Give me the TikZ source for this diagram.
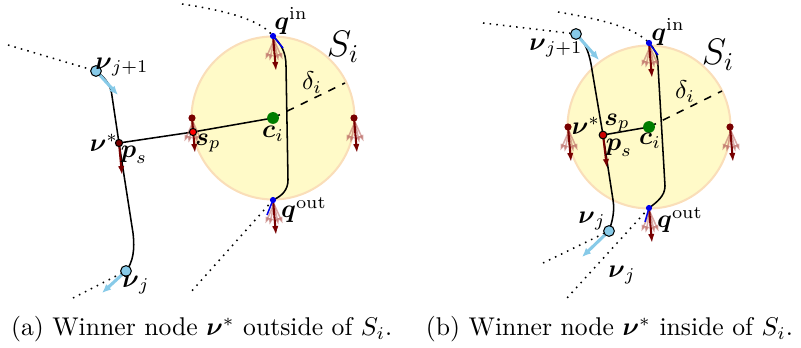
\documentclass[tikz,border=0pt]{standalone}
\usepackage{amsmath,amssymb}
\usetikzlibrary{arrows.meta,positioning,calc}
\definecolor{zonefill}{RGB}{255,250,200}
\definecolor{zoneedge}{RGB}{250,222,185}
\definecolor{frcred}{RGB}{120,0,0}
\definecolor{fanred}{RGB}{185,100,95}
\definecolor{nodeblue}{RGB}{135,202,232}
\definecolor{ptblue}{RGB}{0,0,235}
\definecolor{cgreen}{RGB}{0,125,0}

\begin{document}
\begin{tikzpicture}[x=0.39pt,y=-0.39pt,
  frc/.style={frcred,thick,-{Latex[length=3.5pt,width=2.5pt]}},
  fan/.style={fanred,opacity=0.55,semithick,-{Latex[length=2.8pt,width=2pt]}},
  vel/.style={nodeblue,very thick,-{Latex[length=3.5pt,width=3pt]}},
  tang/.style={ptblue,semithick},
  route/.style={black,semithick},
  trail/.style={dotted,semithick},
  qdot/.style={circle,fill=ptblue,inner sep=0pt,minimum size=2.4pt},
  rdot/.style={circle,fill=frcred,inner sep=0pt,minimum size=2.8pt},
  nudot/.style={circle,draw=black,thin,fill=nodeblue,inner sep=0pt,minimum size=4.2pt},
  cdot/.style={circle,fill=cgreen,inner sep=0pt,minimum size=4.6pt},
  lbl/.style={inner sep=1pt}]
  \useasboundingbox (0,0) rectangle (801,348); % 図全体の範囲

  % ---- (a) 勝者ノードが S_i の外側 ----
  \coordinate (ca) at (273,118); % 中心 c_i
  \coordinate (rada) at (345,83); % 半径の端
  \coordinate (qina) at (273,36); % 入口点
  \coordinate (qouta) at (273,200); % 出口点
  \coordinate (lefta) at (192,118); % 左端の点
  \coordinate (righta) at (354,118); % 右端の点
  \coordinate (spa) at (193,132); % 最近点 s_p
  \coordinate (nusa) at (119,143); % 勝者ノード
  \coordinate (nuja1) at (96,71); % ノード j+1
  \coordinate (nuja) at (126,271); % ノード j
  \coordinate (ta1) at (182,4); % 入ってくる軌跡の端
  \coordinate (ta2) at (190,293); % 出ていく軌跡の端
  \coordinate (ta3) at (8,45); % 点線の端
  \coordinate (ta4) at (73,298); % 点線の端

  \fill[zonefill,draw=zoneedge,thick] (ca) circle (81.5); % 領域 S_i
  \draw[dashed,semithick] (ca) -- (rada); % 半径 delta_i
  \draw[trail] (ta1) .. controls (235,12) and (262,22) .. (qina); % 入ってくる軌跡
  \draw[trail] (qouta) -- (ta2); % 出ていく軌跡
  \draw[trail] (ta3) -- (nuja1); % 前の区間
  \draw[trail] (ta4) -- (nuja); % 次の区間
  \draw[route] (qina) .. controls (281,44) and (286,52) .. (286,66)
    -- (288,180) .. controls (288,190) and (282,196) .. (qouta); % S_i 内の軌跡
  \draw[route] (nuja1) .. controls (106,78) and (111,86) .. (112,96)
    -- (nusa) -- (133,233) .. controls (135,250) and (133,262) .. (nuja); % ノード間の経路
  \draw[semithick] (nusa) -- (spa) -- (ca); % 中心への線
  \foreach \p in {qina,qouta,lefta,righta}{
    \foreach \a in {-24,-12,12,24}
      \draw[fan] ($(\p)+(1,4)$) -- ++({22*sin(\a)},{22*cos(\a)}); % うすい矢印
    \draw[frc] (\p) -- ++(3,35); % 力の矢印
  }
  \draw[frc] (nusa) -- ++(3,32); % 勝者ノードの矢印
  \draw[tang] (qina) -- (283,48); % 入口の接線
  \draw[tang] (267,215) -- (qouta); % 出口の接線
  \draw[vel] (nuja1) -- (118,95); % ノード j+1 の速度
  \draw[vel] (nuja) -- (102,293); % ノード j の速度

  \node[qdot] (dqina) at (qina) {};
  \node[qdot] (dqouta) at (qouta) {};
  \node[rdot] (dlefta) at (lefta) {};
  \node[rdot] (drighta) at (righta) {};
  \node[circle,draw=black,thin,fill=red,inner sep=0pt,minimum size=2.8pt] (dspa) at (spa) {};
  \node[circle,draw=black,thin,fill=frcred,inner sep=0pt,minimum size=2.8pt] (dnusa) at (nusa) {};
  \node[nudot] (dnuja1) at (nuja1) {};
  \node[nudot] (dnuja) at (nuja) {};
  \node[cdot] (dca) at (ca) {};

  \node[lbl] (Sa) at (343,47) {\Large $S_i$};
  \node[lbl] (da) at (312,83) {$\delta_i$};
  \node[lbl] (qinla) at (291,21) {$\boldsymbol{q}^{\mathrm{in}}$};
  \node[lbl] (qoutla) at (304,210) {$\boldsymbol{q}^{\mathrm{out}}$};
  \node[lbl] (cla) at (273,134) {$\boldsymbol{c}_i$};
  \node[lbl] (spla) at (208,143) {$\boldsymbol{s}_p$};
  \node[lbl] (nusla) at (104,143) {$\boldsymbol{\nu}^*$};
  \node[lbl] (psla) at (134,155) {$\boldsymbol{p}_s$};
  \node[lbl] (nuj1la) at (122,67) {$\boldsymbol{\nu}_{j+1}$};
  \node[lbl] (nujla) at (136,285) {$\boldsymbol{\nu}_j$};
  \node[lbl,anchor=west] (capa) at (8,329) {(a) Winner node $\boldsymbol{\nu}^*$ outside of $S_i$.};

  % ---- (b) 勝者ノードが S_i の内側 ----
  \coordinate (cb) at (649,127); % 中心 c_i
  \coordinate (radb) at (722,91); % 半径の端
  \coordinate (qinb) at (649,43); % 入口点
  \coordinate (qoutb) at (649,208); % 出口点
  \coordinate (leftb) at (568,127); % 左端の点
  \coordinate (rightb) at (730,127); % 右端の点
  \coordinate (nusb) at (603,135); % 勝者ノード
  \coordinate (nujb1) at (576,34); % ノード j+1
  \coordinate (nujb) at (609,231); % ノード j
  \coordinate (tb1) at (558,12); % 入ってくる軌跡の端
  \coordinate (tb2) at (567,298); % 出ていく軌跡の端
  \coordinate (tb3) at (483,23); % 点線の端
  \coordinate (tb4) at (543,263); % 点線の端

  \fill[zonefill,draw=zoneedge,thick] (cb) circle (81.5); % 領域 S_i
  \draw[dashed,semithick] (cb) -- (radb); % 半径 delta_i
  \draw[trail] (tb1) .. controls (605,20) and (635,28) .. (qinb); % 入ってくる軌跡
  \draw[trail] (qoutb) -- (tb2); % 出ていく軌跡
  \draw[trail] (tb3) -- (nujb1); % 前の区間
  \draw[trail] (tb4) -- (nujb); % 次の区間
  \draw[route] (qinb) .. controls (655,49) and (658,55) .. (658,66)
    -- (665,186) .. controls (665,196) and (657,202) .. (qoutb); % S_i 内の軌跡
  \draw[route] (nujb1) .. controls (585,40) and (590,55) .. (592,70)
    -- (nusb) -- (613,200) .. controls (615,212) and (612,222) .. (nujb); % ノード間の経路
  \draw[semithick] (nusb) -- (cb); % 中心への線
  \foreach \p in {qinb,qoutb,leftb,rightb}{
    \foreach \a in {-24,-12,12,24}
      \draw[fan] ($(\p)+(1,4)$) -- ++({22*sin(\a)},{22*cos(\a)}); % うすい矢印
    \draw[frc] (\p) -- ++(3,35); % 力の矢印
  }
  \draw[frc] (nusb) -- ++(4,33); % 勝者ノードの矢印
  \draw[tang] (qinb) -- (658,55); % 入口の接線
  \draw[tang] (645,222) -- (qoutb); % 出口の接線
  \draw[vel] (nujb1) -- (599,60); % ノード j+1 の速度
  \draw[vel] (nujb) -- (582,257); % ノード j の速度

  \node[qdot] (dqinb) at (qinb) {};
  \node[qdot] (dqoutb) at (qoutb) {};
  \node[rdot] (dleftb) at (leftb) {};
  \node[rdot] (drightb) at (rightb) {};
  \node[circle,draw=black,thin,fill=red!80!black,inner sep=0pt,minimum size=3pt] (dnusb) at (nusb) {};
  \node[nudot] (dnujb1) at (nujb1) {};
  \node[nudot] (dnujb) at (nujb) {};
  \node[cdot] (dcb) at (cb) {};

  \node[lbl] (Sb) at (718,55) {\Large $S_i$};
  \node[lbl] (db) at (685,92) {$\delta_i$};
  \node[lbl] (qinlb) at (668,32) {$\boldsymbol{q}^{\mathrm{in}}$};
  \node[lbl] (qoutlb) at (680,220) {$\boldsymbol{q}^{\mathrm{out}}$};
  \node[lbl] (clb) at (650,141) {$\boldsymbol{c}_i$};
  \node[lbl] (splb) at (617,123) {$\boldsymbol{s}_p$};
  \node[lbl] (nuslb) at (586,126) {$\boldsymbol{\nu}^*$};
  \node[lbl] (pslb) at (619,148) {$\boldsymbol{p}_s$};
  \node[lbl] (nuj1lb) at (556,48) {$\boldsymbol{\nu}_{j+1}$};
  \node[lbl] (nujlb) at (592,221) {$\boldsymbol{\nu}_j$};
  \node[lbl] (nujlb2) at (622,275) {$\boldsymbol{\nu}_j$};
  \node[lbl,anchor=east] (capb) at (796,329) {(b) Winner node $\boldsymbol{\nu}^*$ inside of $S_i$.};
\end{tikzpicture}
\end{document}
